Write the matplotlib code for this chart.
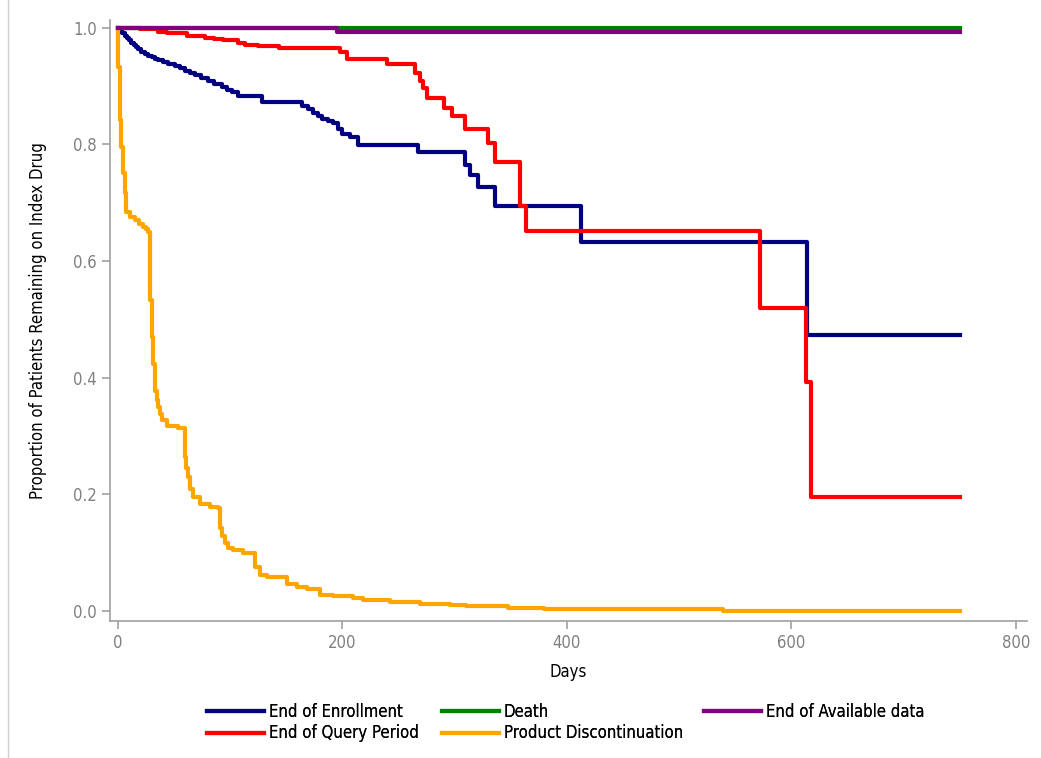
import matplotlib.pyplot as plt
from matplotlib.lines import Line2D

# step curves (day, proportion remaining)
enroll_days = [0, 2, 4, 6, 8, 10, 12, 14, 16, 18, 21, 24, 27, 30, 33, 36, 40, 45, 51, 55, 60, 64, 69, 74, 80, 86, 93, 97, 102, 107, 128, 164, 169, 174, 178, 182, 187, 192, 196, 200, 207, 214, 267, 309, 314, 321, 336, 413, 614, 750]
enroll_vals = [1.0, 0.995, 0.99, 0.985, 0.982, 0.978, 0.974, 0.970, 0.967, 0.963, 0.958, 0.954, 0.951, 0.949, 0.946, 0.944, 0.941, 0.938, 0.935, 0.931, 0.926, 0.922, 0.918, 0.914, 0.909, 0.904, 0.898, 0.893, 0.889, 0.882, 0.873, 0.866, 0.860, 0.854, 0.849, 0.844, 0.840, 0.836, 0.826, 0.818, 0.812, 0.798, 0.786, 0.764, 0.747, 0.726, 0.695, 0.632, 0.473, 0.473]

query_days = [0, 10, 20, 27, 36, 44, 51, 62, 70, 78, 86, 94, 107, 113, 125, 144, 198, 204, 240, 265, 269, 272, 275, 291, 298, 309, 330, 336, 358, 364, 572, 613, 618, 750]
query_vals = [1.0, 0.999, 0.998, 0.997, 0.993, 0.991, 0.99, 0.986, 0.985, 0.983, 0.981, 0.979, 0.974, 0.971, 0.968, 0.965, 0.958, 0.947, 0.937, 0.923, 0.909, 0.896, 0.88, 0.863, 0.849, 0.827, 0.803, 0.769, 0.695, 0.652, 0.52, 0.393, 0.195, 0.195]

death_days = [0, 750]
death_vals = [1.0, 1.0]

disc_days = [0, 0.5, 1.5, 3, 4.5, 6, 7, 11, 15, 19, 22, 25, 27, 28.5, 30, 31.4, 33, 34.5, 35.9, 37.4, 38.9, 43.4, 53.7, 59.7, 61, 62.6, 64.5, 67.1, 73, 82, 89.4, 90.9, 93, 95.3, 98, 102.7, 111.6, 120.5, 122, 126.5, 132.5, 150.3, 159.2, 168.2, 180, 191.5, 209.4, 218.3, 242.3, 269, 295.8, 310, 348, 380, 539, 750]
disc_vals = [1.0, 0.932, 0.841, 0.795, 0.75, 0.716, 0.684, 0.676, 0.67, 0.664, 0.658, 0.654, 0.65, 0.533, 0.47, 0.424, 0.378, 0.362, 0.35, 0.338, 0.327, 0.318, 0.313, 0.264, 0.245, 0.23, 0.21, 0.196, 0.183, 0.178, 0.176, 0.142, 0.128, 0.116, 0.108, 0.104, 0.099, 0.099, 0.076, 0.062, 0.058, 0.046, 0.041, 0.037, 0.027, 0.026, 0.022, 0.019, 0.016, 0.012, 0.01, 0.008, 0.0057, 0.003, 0.0, 0.0]

avail_days = [0, 195, 750]
avail_vals = [1.0, 0.993, 0.993]

plt.rcParams['font.family'] = ['DejaVu Sans']
plt.rcParams['font.stretch'] = 'condensed'

fig = plt.figure(figsize=(10.41, 7.58), dpi=100)
ax = fig.add_axes([110 / 1041, 137 / 758, 917 / 1041, 601 / 758])

lw = 3
h1, = ax.step(enroll_days, enroll_vals, where='post', color='#000080', lw=lw, label='End of Enrollment')
h2, = ax.step(query_days, query_vals, where='post', color='#ff0000', lw=lw, label='End of Query Period')
h3, = ax.step(death_days, death_vals, where='post', color='#008000', lw=lw, label='Death')
h4, = ax.step(disc_days, disc_vals, where='post', color='#ffa500', lw=lw, label='Product Discontinuation')
h5, = ax.step(avail_days, avail_vals, where='post', color='#800080', lw=lw, label='End of Available data')

ax.set_xlim(-7, 810)
ax.set_ylim(-0.017, 1.013)
ax.set_xticks([0, 200, 400, 600, 800])
ax.set_yticks([0.0, 0.2, 0.4, 0.6, 0.8, 1.0])
ax.set_yticklabels(['0.0', '0.2', '0.4', '0.6', '0.8', '1.0'])

for s in ['top', 'right']:
    ax.spines[s].set_visible(False)
for s in ['left', 'bottom']:
    ax.spines[s].set_color('#a0a0a0')
    ax.spines[s].set_linewidth(1.2)
ax.tick_params(colors='#a0a0a0', labelcolor='#808080', labelsize=12, length=6, width=1.2)

ax.set_xlabel('Days', fontsize=12, labelpad=8)
ax.set_ylabel('Proportion of Patients Remaining on Index Drug', fontsize=12, labelpad=19)

# legend, one block per column
cols = [([h1, h2], 207), ([h3, h4], 442), ([h5], 704)]
for hs, xpx in cols:
    lg = fig.legend(handles=hs, loc='upper left', bbox_to_anchor=(xpx / 1041, 1 - 703 / 758),
                    frameon=False, fontsize=12, handlelength=3.4, handletextpad=0.3,
                    labelspacing=0.2, borderpad=0, borderaxespad=0)
    fig.add_artist(lg)

# faint border line at left of figure
fig.add_artist(Line2D([8 / 1041, 8 / 1041], [0, 1], color='#d0d0d0', lw=1))

fig.savefig('out.png', dpi=100)
